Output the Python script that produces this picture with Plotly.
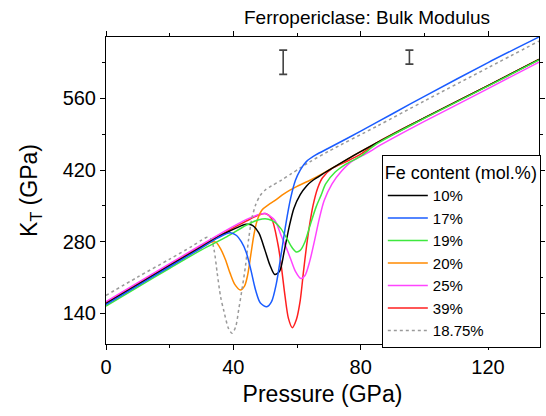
import plotly.graph_objects as go

# ---- data ----
P_10 = [0, 10, 20, 30, 37, 41, 44, 46, 48, 50, 51.5, 53, 54.5, 56, 57.5, 59, 61, 63, 65, 68, 72, 78, 85, 100, 120, 136]
K_10 = [159, 196, 233, 270, 295, 307, 314, 312, 297, 262, 234, 216, 222, 262, 308, 345, 372, 389, 400, 412, 427, 449, 473, 522, 585, 636]

P_17 = [0, 10, 20, 30, 35, 39, 41, 42.5, 44, 45.5, 47, 48.5, 50.5, 52, 53.5, 55, 56.5, 58, 59.5, 61, 63, 66, 70, 80, 90, 100, 120, 136]
K_17 = [157, 194, 231, 268, 287, 297.5, 292, 280, 260, 225, 185, 160, 153, 163, 198, 255, 315, 365, 400, 420, 437, 450, 463, 496, 530, 564, 630, 680]

P_19 = [0, 10, 20, 30, 38, 44, 48, 51, 53, 55, 57, 58.5, 59.8, 61, 62.5, 64, 66, 67.5, 69, 72, 75, 80, 85, 100, 120, 136]
K_19 = [154, 191, 228, 264, 290, 312, 323, 324, 318, 305, 284, 268, 260, 263, 280, 310, 348, 370, 393, 416, 430, 447, 471, 521, 584, 635]

P_20 = [0, 10, 20, 30, 33, 34.5, 36, 37.5, 39, 40.5, 42.2, 43.5, 44.5, 45.5, 46.5, 47.5, 49, 51, 53, 56, 60, 64.4, 68, 72, 78, 85, 100, 120, 136]
K_20 = [158, 195, 232, 268, 279, 279, 266, 245, 218, 196, 185.5, 193, 215, 255, 295, 322, 342, 352, 360, 374, 388, 401, 413, 427, 449, 473, 522, 585, 636]

P_25 = [0, 10, 20, 30, 38, 44, 48, 50, 53, 55, 56.5, 58, 59.5, 61.2, 62.5, 64, 65.5, 67, 68.5, 71, 74, 77, 82, 86, 100, 120, 136]
K_25 = [163, 200, 237, 274, 303, 323, 333, 335, 322, 292, 270, 246, 222, 208, 214, 242, 282, 325, 360, 393, 418, 436, 453, 468, 515, 579, 631]

P_39 = [0, 10, 20, 30, 38, 44, 48, 50, 52, 54, 55, 56.2, 57.3, 58.5, 59.8, 61, 62, 63, 64, 65, 66.5, 68, 71, 75, 80, 85, 100, 120, 136]
K_39 = [161, 198, 235, 272, 300, 320, 332, 335, 325, 275, 235, 175, 130, 112, 128, 165, 220, 272, 315, 350, 385, 405, 423, 435, 451, 473, 522, 585, 636]

P_1875 = [0, 10, 20, 27, 30, 31.8, 33, 34, 34.9, 36, 37, 38.5, 39.6, 40.7, 41.7, 42.8, 43.8, 44.8, 45.8, 47, 48.4, 50, 52, 55, 58, 61, 64, 70, 85.2, 100, 120, 136]
K_1875 = [175, 211, 246, 271, 283, 288.5, 285, 262, 220, 172, 145, 110, 101, 113, 148, 190, 232, 285, 325, 352, 370, 381, 389, 400, 412, 424, 436, 457, 506, 555, 620, 672]

# name, P, K, colour, dash, legend rank
series = [
    ("10%", P_10, K_10, "#000000", "solid", 1),
    ("17%", P_17, K_17, "#1a5cff", "solid", 2),
    ("19%", P_19, K_19, "#3ee83e", "solid", 3),
    ("20%", P_20, K_20, "#ff8a00", "solid", 4),
    ("25%", P_25, K_25, "#ff44ff", "solid", 5),
    ("39%", P_39, K_39, "#ff1f1f", "solid", 6),
    ("18.75%", P_1875, K_1875, "#9a9a9a", "3px,3px", 7),
]
draw_order = ["39%", "25%", "20%", "18.75%", "10%", "19%", "17%"]

err_P = [55.65, 95.3]
err_K = [630.7, 640.7]
err_half = [23.7, 13.7]

FONT = "Liberation Sans, Arial, sans-serif"

lookup = {s[0]: s for s in series}
fig = go.Figure()
for nm in draw_order:
    name, px, ky, col, dash, rank = lookup[nm]
    fig.add_trace(go.Scatter(
        x=px, y=ky, name=name, mode="lines", legendrank=rank,
        line=dict(color=col, width=1.5, dash=dash, shape="spline", smoothing=0.8),
    ))

fig.add_trace(go.Scatter(
    x=err_P, y=err_K, mode="markers", showlegend=False, hoverinfo="skip",
    marker=dict(size=1, color="rgba(0,0,0,0)"),
    error_y=dict(type="data", array=err_half, visible=True, color="#444444", thickness=1.6, width=4),
))

axis_common = dict(
    showline=True, linecolor="black", linewidth=1, mirror="ticks",
    ticks="outside", ticklen=5, tickwidth=1, tickcolor="black",
    showgrid=False, zeroline=False,
    tickfont=dict(family=FONT, size=20, color="black"),
)

fig.update_xaxes(
    range=[0, 136], tick0=0, dtick=40,
    minor=dict(ticks="outside", ticklen=3, dtick=20, tickcolor="black", showgrid=False),
    title=dict(text="Pressure (GPa)", font=dict(family=FONT, size=23, color="black"), standoff=8),
    **axis_common,
)
fig.update_yaxes(
    range=[80, 680], tick0=0, dtick=140,
    minor=dict(ticks="outside", ticklen=3, dtick=70, tickcolor="black", showgrid=False),
    title=dict(text="K<sub>T</sub> (GPa)", font=dict(family=FONT, size=23, color="black"), standoff=18),
    **axis_common,
)

fig.update_layout(
    width=546, height=416,
    margin=dict(l=106, r=1, t=37, b=72),
    paper_bgcolor="white", plot_bgcolor="white",
    font=dict(family=FONT, color="black"),
    title=dict(text="Ferropericlase: Bulk Modulus", font=dict(family=FONT, size=19, color="black"),
               x=367/546, xanchor="center", y=1-17/416, yanchor="middle", xref="container", yref="container"),
    legend=dict(
        title=dict(text="Fe content (mol.%)", font=dict(family=FONT, size=18, color="black")),
        font=dict(family=FONT, size=15, color="black"),
        x=0.637, y=0.616, xanchor="left", yanchor="top",
        bgcolor="white", bordercolor="black", borderwidth=1,
        tracegroupgap=0, itemwidth=40,
    ),
    showlegend=True,
)

fig.write_html("out.html")
